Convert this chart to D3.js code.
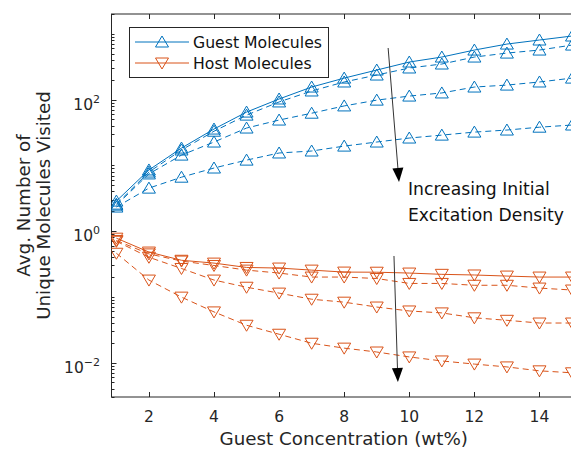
<!DOCTYPE html>
<html><head><meta charset="utf-8">
<script src="https://cdn.jsdelivr.net/npm/d3@7"></script>
<style>
body{margin:0;background:#fff;}
text{font-family:"DejaVu Sans",sans-serif;}
</style></head>
<body><svg id="c" width="571" height="451"></svg>
<script>
const concentration = [1,2,3,4,5,6,7,8,9,10,11,12,13,14,15];
const guestSolid  = [2.86,8.5,18.3,35.6,64.5,102,155,212,281,372,443,566,698,804,925];
const guestDashA  = [2.57,7.9,17.1,33,58,92,135,185,236,302,347,443,509,566,674];
const guestDashB  = [2.48,7.4,14.3,22.6,36.9,48.8,62,80,98,113,126,155,166,185,212];
const guestDashC  = [2.32,4.5,6.6,9.1,12,15.4,16.5,19.6,22.6,26,28.8,32,34.4,38,41];
const hostSolid   = [0.78,0.48,0.36,0.326,0.28,0.274,0.255,0.238,0.237,0.23,0.22,0.215,0.207,0.2,0.2];
const hostDashA   = [0.72,0.45,0.35,0.30,0.255,0.23,0.2,0.2,0.19,0.16,0.16,0.15,0.15,0.136,0.127];
const hostDashB   = [0.70,0.40,0.27,0.18,0.14,0.114,0.092,0.083,0.07,0.061,0.057,0.048,0.044,0.04,0.04];
const hostDashC   = [0.46,0.18,0.099,0.059,0.037,0.027,0.0197,0.0166,0.0145,0.0122,0.0106,0.0095,0.0086,0.0075,0.007];
const xTicks = [2,4,6,8,10,12,14];
const yTickExp = [-2,0,2];
const legendLabels = ["Guest Molecules","Host Molecules"];
const annotationLines = ["Increasing Initial","Excitation Density"];
const arrows = [ {x1:9.35,y1:608,x2:9.685,y2:5.58}, {x1:9.53,y1:0.418,x2:9.65,y2:0.00507} ];
const annotationPos = {x:9.96, y:[3.54,1.42]};

const blue = "#0072BD", orange = "#D95319", axisCol = "#262626";
const svg = d3.select("#c");
const L=111.5, R=572, T=14, B=397;
const x = d3.scaleLinear().domain([0.85,15]).range([L,R]);
const y = d3.scaleLog().domain([0.003,2000]).range([B,T]);

svg.append("clipPath").attr("id","clip").append("rect").attr("x",L).attr("y",T).attr("width",R-L).attr("height",B-T);

const ax = svg.append("g");
ax.append("rect").attr("x",L).attr("y",T).attr("width",R-L).attr("height",B-T).attr("fill","none").attr("stroke",axisCol).attr("stroke-width",1);

xTicks.forEach(t=>{
  const px = Math.round(x(t))+0.5;
  ax.append("line").attr("x1",px).attr("x2",px).attr("y1",B).attr("y2",B-5).attr("stroke",axisCol);
  ax.append("line").attr("x1",px).attr("x2",px).attr("y1",T).attr("y2",T+5).attr("stroke",axisCol);
  ax.append("text").attr("x",x(t)).attr("y",422).attr("text-anchor","middle").attr("font-size",15.5).attr("fill",axisCol).text(t);
});
for(let e=-3;e<=3;e++){
  for(let m=1;m<10;m++){
    const v=m*Math.pow(10,e);
    if(v<0.003||v>2000) continue;
    const py=Math.round(y(v))+0.5;
    const len = (m===1 && e%2===0)?5:3;
    ax.append("line").attr("x1",L).attr("x2",L+len).attr("y1",py).attr("y2",py).attr("stroke",axisCol);
  }
}
yTickExp.forEach(e=>{
  const py=y(Math.pow(10,e));
  const t=ax.append("text").attr("x",100).attr("y",py+10).attr("text-anchor","end").attr("font-size",15.5).attr("fill",axisCol);
  t.append("tspan").text("10");
  t.append("tspan").attr("dy",-7).attr("font-size",11).text(e===-2?"\u22122":e);
});

svg.append("text").attr("x",(L+R)/2+2).attr("y",445).attr("text-anchor","middle").attr("font-size",18.3).attr("fill",axisCol).text("Guest Concentration (wt%)");
const yt = svg.append("text").attr("transform",`translate(0,${(T+B)/2}) rotate(-90)`).attr("text-anchor","middle").attr("font-size",18.3).attr("fill",axisCol);
yt.append("tspan").attr("x",0).attr("y",30).text("Avg. Number of");
yt.append("tspan").attr("x",0).attr("y",50).text("Unique Molecules Visited");

const series = [
  {d:guestSolid,c:blue,dash:null,up:true},
  {d:guestDashA,c:blue,dash:"6,4",up:true},
  {d:guestDashB,c:blue,dash:"6,4",up:true},
  {d:guestDashC,c:blue,dash:"6,4",up:true},
  {d:hostSolid,c:orange,dash:null,up:false},
  {d:hostDashA,c:orange,dash:"6,4",up:false},
  {d:hostDashB,c:orange,dash:"6,4",up:false},
  {d:hostDashC,c:orange,dash:"6,4",up:false}
];
const plot = svg.append("g").attr("clip-path","url(#clip)");
const line = d3.line().x((d,i)=>x(concentration[i])).y(d=>y(d));
function tri(cx,cy,up){
  const w=6.5,h=5.5;
  return up? `M${cx},${cy-h-0.5}L${cx+w},${cy+h-0.5}L${cx-w},${cy+h-0.5}Z` : `M${cx},${cy+h+0.5}L${cx+w},${cy-h+0.5}L${cx-w},${cy-h+0.5}Z`;
}
series.forEach(s=>{
  plot.append("path").attr("d",line(s.d)).attr("fill","none").attr("stroke",s.c).attr("stroke-width",1).attr("stroke-dasharray",s.dash);
  s.d.forEach((v,i)=>{
    plot.append("path").attr("d",tri(x(concentration[i]),y(v),s.up)).attr("fill","none").attr("stroke",s.c).attr("stroke-width",1);
  });
});

arrows.forEach(a=>{
  const x1=x(a.x1),y1=y(a.y1),x2=x(a.x2),y2=y(a.y2);
  const ang=Math.atan2(y2-y1,x2-x1);
  const hl=14, hw=5.5;
  const bx=x2-hl*Math.cos(ang), by=y2-hl*Math.sin(ang);
  svg.append("line").attr("x1",x1).attr("y1",y1).attr("x2",bx).attr("y2",by).attr("stroke","#333").attr("stroke-width",1);
  const px=-Math.sin(ang), py=Math.cos(ang);
  svg.append("path").attr("d",`M${x2},${y2}L${bx+hw*px},${by+hw*py}L${bx-hw*px},${by-hw*py}Z`).attr("fill","#000");
});
annotationLines.forEach((t,i)=>{
  svg.append("text").attr("x",x(annotationPos.x)).attr("y",y(annotationPos.y[i])).attr("font-size",17.2).attr("fill","#111").text(t);
});

const lg = svg.append("g");
lg.append("rect").attr("x",129.5).attr("y",27.5).attr("width",199).attr("height",50).attr("fill","#fff").attr("stroke",axisCol).attr("stroke-width",1);
legendLabels.forEach((lab,i)=>{
  const cy = 42+i*21, c = i===0?blue:orange;
  lg.append("line").attr("x1",135).attr("x2",189).attr("y1",cy).attr("y2",cy).attr("stroke",c);
  lg.append("path").attr("d",tri(162,cy,i===0)).attr("fill","none").attr("stroke",c);
  lg.append("text").attr("x",193).attr("y",cy+6).attr("font-size",15.7).attr("fill","#111").text(lab);
});
</script></body></html>
